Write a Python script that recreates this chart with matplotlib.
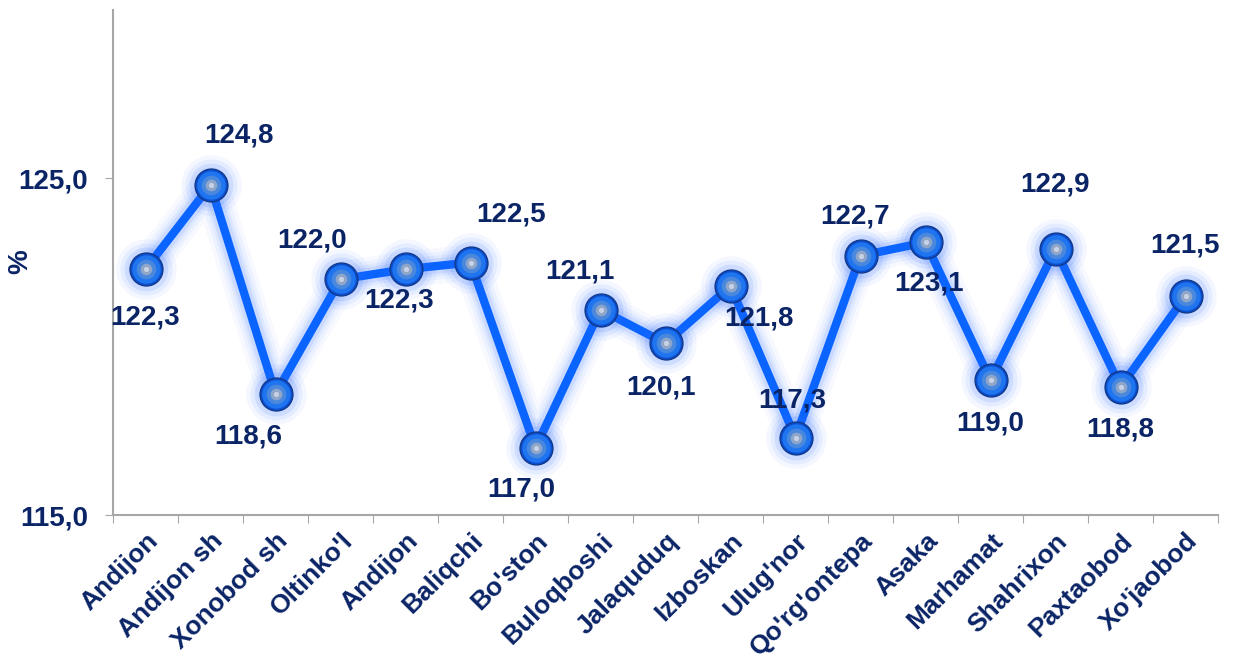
import matplotlib
matplotlib.use("Agg")
import matplotlib.pyplot as plt
import numpy as np

districts = ["Andijon", "Andijon sh", "Xonobod sh", "Oltinko'l", "Andijon", "Baliqchi",
             "Bo'ston", "Buloqboshi", "Jalaquduq", "Izboskan", "Ulug'nor", "Qo'rg'ontepa",
             "Asaka", "Marhamat", "Shahrixon", "Paxtaobod", "Xo'jaobod"]
values = [122.3, 124.8, 118.6, 122.0, 122.3, 122.5, 117.0, 121.1, 120.1, 121.8,
          117.3, 122.7, 123.1, 119.0, 122.9, 118.8, 121.5]
# label offsets in pixels (dx, dy) relative to each point
label_offsets = [(0, -48), (28, 50), (-27, -43), (-28, 39), (-6, -31), (41, 48),
                 (-14, -42), (-21, 38), (-5, -44), (29, -32), (-3, 37), (-5, 39),
                 (3, -41), (0, -43), (0, 65), (0, -42), (0, 51)]

navy = "#0a2466"
line_blue = "#0a64ff"
plt.rcParams['font.family'] = ['Liberation Sans', 'DejaVu Sans']

fig = plt.figure(figsize=(12.35, 6.59), dpi=100)
ax = fig.add_axes([113 / 1235, 1 - 515 / 659, (1218 - 113) / 1235, (515 - 10) / 659])

x = np.arange(len(values))

# glow
for lw, a in [(26, 0.04), (20, 0.06), (15, 0.08), (11, 0.12)]:
    ax.plot(x, values, color="#3b7bff", lw=lw, alpha=a, solid_capstyle="round", zorder=2)
ax.plot(x, values, color=line_blue, lw=6, zorder=3, solid_capstyle="round")

# marker glow
for s, a in [(1900, 0.05), (1400, 0.08), (1000, 0.12)]:
    ax.scatter(x, values, s=s, color="#2f6dff", alpha=a, lw=0, zorder=4)
# spheres
ax.scatter(x, values, s=560, color="#0b4fd0", edgecolor="#123a8c", lw=1, zorder=5)
ax.scatter(x, values, s=420, color="#1f74f0", lw=0, zorder=6)
ax.scatter(x, values, s=200, color="#4a88de", lw=0, zorder=7)
ax.scatter(x, values, s=70, color="#8fa6c9", lw=0, zorder=8)
ax.scatter(x, values, s=14, color="#c8d2e4", lw=0, zorder=9)

for xi, v, (dx, dy) in zip(x, values, label_offsets):
    ax.annotate(f"{v:.1f}".replace(".", ","), (xi, v), xytext=(dx * 0.72, dy * 0.72),
                textcoords="offset points", ha="center", va="center",
                fontsize=20, fontweight="bold", color=navy, zorder=10)

ax.set_xlim(-0.5, len(values) - 0.5)
ax.set_ylim(115, 130)
ax.set_yticks([115, 125])
ax.set_yticklabels(["115,0", "125,0"])
ax.set_xticks(np.arange(len(values) + 1) - 0.5, minor=False)
ax.set_xticklabels([])
ax.set_xticks(x, minor=True)
ax.set_xticklabels(districts, minor=True, rotation=45, ha="right", rotation_mode="anchor",
                   fontsize=19, fontweight="bold", color=navy)
ax.tick_params(axis="x", which="minor", length=0, pad=10)
ax.tick_params(axis="x", which="major", length=6, color="#a6a6a6", direction="out")
ax.tick_params(axis="y", length=6, color="#a6a6a6", direction="out", pad=12,
               labelsize=20, labelcolor=navy)
for lab in ax.get_yticklabels():
    lab.set_fontweight("bold")

for side in ["top", "right"]:
    ax.spines[side].set_visible(False)
for side in ["left", "bottom"]:
    ax.spines[side].set_color("#a6a6a6")
    ax.spines[side].set_linewidth(1.5)

fig.text(20 / 1235, 1 - 262 / 659, "%", rotation=90, ha="center", va="center",
         fontsize=20, fontweight="bold", color=navy)

fig.savefig("out.png", dpi=100)
